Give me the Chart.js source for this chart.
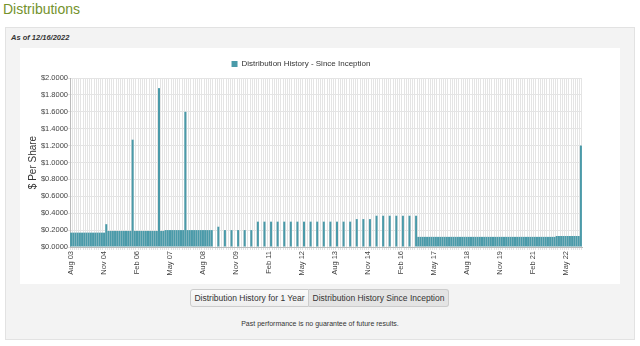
<!DOCTYPE html>
<html lang="en">
<head>
  <meta charset="UTF-8">
  <script src="https://cdn.jsdelivr.net/npm/chart.js@4.4.0/dist/chart.umd.min.js"></script>
  <title>Distributions</title>
</head>
<style>
*{
    margin: 0px;
    padding: 0px;
    box-sizing: border-box;
}
body{
    width: 640px;
    height: 346px;
    background: #fff;
    font-family: "Liberation Sans", Arial, sans-serif;
    position: relative;
    overflow: hidden;
}
.title{
    position: absolute;
    left: 3px;
    top: 1px;
    font-size: 14px;
    color: #74922c;
}
.panel{
    position: absolute;
    left: 5px;
    top: 27px;
    width: 630px;
    height: 313px;
    background: #f3f3f3;
    border: 1px solid #e2e2e2;
}
.asof{
    position: absolute;
    left: 5px;
    top: 5px;
    font-size: 7.5px;
    font-weight: bold;
    font-style: italic;
    color: #333;
}
#box{
    position: absolute;
    left: 14px;
    top: 20px;
    width: 600px;
    height: 236px;
    background: #fff;
}
.buttons{
    position: absolute;
    left: 184px;
    top: 261px;
    display: flex;
}
.buttons div{
    font-size: 8.5px;
    color: #333;
    border: 1px solid #ccc;
    height: 18px;
    line-height: 16px;
    text-align: center;
}
.b1{
    width: 119px;
    background: linear-gradient(#fafafa, #eeeeee);
    border-radius: 3px 0 0 3px;
}
.b2{
    width: 140px;
    background: #e4e4e4;
    border-left: none !important;
    border-radius: 0 3px 3px 0;
}
.note{
    position: absolute;
    left: 0;
    width: 100%;
    top: 292px;
    text-align: center;
    font-size: 7px;
    color: #333;
}
</style>
<body>
  <div class="title">Distributions</div>
  <div class="panel">
    <div class="asof">As of 12/16/2022</div>
    <div id="box"><canvas id="distChart" width="600" height="236"></canvas></div>
    <div class="buttons">
      <div class="b1">Distribution History for 1 Year</div>
      <div class="b2">Distribution History Since Inception</div>
    </div>
    <div class="note">Past performance is no guarantee of future results.</div>
  </div>
<script>
// months shown on the axis, Aug 2003 .. Dec 2022
const monthNames = ["Jan","Feb","Mar","Apr","May","Jun","Jul","Aug","Sep","Oct","Nov","Dec"];
const firstYear = 2003, firstMonth = 7;   // Aug 03
const lastYear = 2022, lastMonth = 11;    // Dec 22

// distribution per month ($ per share), one row per calendar year, null = no payment
const dist2003 = [0.17,0.17,0.17,0.17,0.17]; // Aug-Dec
const dist2004 = [0.17,0.17,0.17,0.17,0.17,0.17,0.17,0.17,0.17,0.17,0.17,0.27];
const dist2005 = [0.19,0.19,0.19,0.19,0.19,0.19,0.19,0.19,0.19,0.19,0.19,1.27];
const dist2006 = [0.19,0.19,0.19,0.19,0.19,0.19,0.19,0.19,0.19,0.19,0.19,1.88];
const dist2007 = [0.19,0.19,0.20,0.20,0.20,0.20,0.20,0.20,0.20,0.20,0.20,1.60];
const dist2008 = [0.20,0.20,0.20,0.20,0.20,0.20,0.20,0.20,0.20,0.20,0.20,0.20];
const dist2009 = [null,null,0.24,null,null,0.20,null,null,0.20,null,null,0.20];
const dist2010 = [null,null,0.20,null,null,0.20,null,null,0.30,null,null,0.30];
const dist2011 = [null,null,0.30,null,null,0.30,null,null,0.30,null,null,0.30];
const dist2012 = [null,null,0.30,null,null,0.30,null,null,0.30,null,null,0.30];
const dist2013 = [null,null,0.30,null,null,0.30,null,null,0.30,null,null,0.30];
const dist2014 = [null,null,0.30,null,null,0.33,null,null,0.33,null,null,0.33];
const dist2015 = [null,null,0.37,null,null,0.37,null,null,0.37,null,null,0.37];
const dist2016 = [null,null,0.37,null,null,0.37,null,null,0.37,0.12,0.12,0.12];
const dist2017 = [0.12,0.12,0.12,0.12,0.12,0.12,0.12,0.12,0.12,0.12,0.12,0.12];
const dist2018 = [0.12,0.12,0.12,0.12,0.12,0.12,0.12,0.12,0.12,0.12,0.12,0.12];
const dist2019 = [0.12,0.12,0.12,0.12,0.12,0.12,0.12,0.12,0.12,0.12,0.12,0.12];
const dist2020 = [0.12,0.12,0.12,0.12,0.12,0.12,0.12,0.12,0.12,0.12,0.12,0.12];
const dist2021 = [0.12,0.12,0.12,0.12,0.12,0.12,0.12,0.12,0.12,0.12,0.12,0.12];
const dist2022 = [0.13,0.13,0.13,0.13,0.13,0.13,0.13,0.13,0.13,0.13,0.13,1.20];

const yTicks = [0, 0.2, 0.4, 0.6, 0.8, 1.0, 1.2, 1.4, 1.6, 1.8, 2.0];

const labels = [];
for (let y = firstYear; y <= lastYear; y++) {
  const m0 = (y == firstYear) ? firstMonth : 0;
  const m1 = (y == lastYear) ? lastMonth : 11;
  for (let m = m0; m <= m1; m++) {
    labels.push(monthNames[m] + " " + String(y).slice(2));
  }
}
const values = [].concat(dist2003, dist2004, dist2005, dist2006, dist2007, dist2008,
  dist2009, dist2010, dist2011, dist2012, dist2013, dist2014, dist2015, dist2016,
  dist2017, dist2018, dist2019, dist2020, dist2021, dist2022);

Chart.defaults.font.family = '"Liberation Sans", Arial, sans-serif';
Chart.defaults.color = "#444";

const config = {
  type: "bar",
  data: {
    labels: labels,
    datasets: [{
      label: "Distribution History - Since Inception",
      backgroundColor: "#4a9aa9",
      borderWidth: 0,
      data: values,
      categoryPercentage: 1.0,
      barPercentage: 0.92
    }]
  },
  options: {
    responsive: false,
    animation: false,
    layout: { padding: { top: 4, right: 38, left: 0, bottom: 0 } },
    plugins: {
      legend: {
        labels: { boxWidth: 6, boxHeight: 6, padding: 8, font: { size: 8 }, color: "#333" }
      },
      tooltip: { enabled: false }
    },
    scales: {
      x: {
        grid: { color: "#e4e4e4", lineWidth: 1, drawTicks: true, tickLength: 3 },
        border: { color: "#bbb" },
        ticks: {
          autoSkip: false,
          maxRotation: 90,
          minRotation: 90,
          padding: 1,
          font: { size: 7.5 },
          callback: function(v, i) { return (i % 15 == 0) ? labels[i] : ""; }
        },
        afterFit: function(s) { s.height = 37; }
      },
      y: {
        min: 0,
        max: 2,
        afterBuildTicks: function(s) { s.ticks = yTicks.map(v => ({ value: v })); },
        grid: { color: "#e4e4e4", tickLength: 2 },
        border: { color: "#bbb" },
        ticks: {
          font: { size: 7.5 },
          padding: 0,
          callback: function(v) { return "$" + Number(v).toFixed(4); }
        },
        title: { display: true, text: "$ Per Share", font: { size: 10, lineHeight: 1 }, color: "#333", padding: { top: 8, bottom: 0 } },
        afterFit: function(s) { s.width = 50; }
      }
    }
  }
};
var distChart = new Chart(document.getElementById("distChart"), config);
</script>
</body>
</html>
